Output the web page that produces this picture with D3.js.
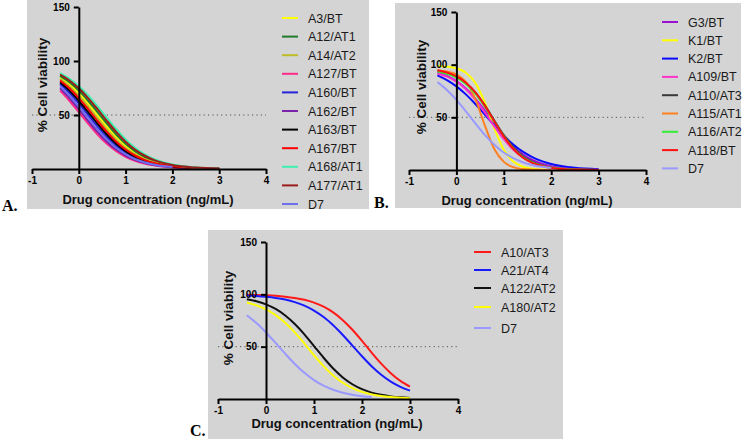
<!DOCTYPE html>
<html><head><meta charset="utf-8">
<script src="https://cdn.jsdelivr.net/npm/d3@7"></script>
<style>
body{margin:0;background:#fff;}
svg{display:block;font-family:"Liberation Sans",Arial,sans-serif;}
</style></head>
<body><svg id="c" width="750" height="439"></svg>
<script>
// ---------- data ----------
const xTicks = [-1, 0, 1, 2, 3, 4];
const yTicks = [50, 100, 150];
const xLabel = "Drug concentration (ng/mL)";
const yLabel = "% Cell viability";

// Panel A
const xA = [-0.4,-0.2,0,0.2,0.4,0.6,0.8,1.0,1.2,1.4,1.6,1.8,2.0,2.5,3.0];
const namesA = ["A3/BT","A12/AT1","A14/AT2","A127/BT","A160/BT","A162/BT","A163/BT","A167/BT","A168/AT1","A177/AT1","D7"];
const colorsA = ["#ffff00","#1f7a2a","#bdbd2a","#ff2a8a","#2424d8","#7a22a8","#000000","#ff0000","#3cf0b0","#9a1c1c","#6f6fee"];
const A3   = [85.0,78.6,70.4,60.7,50.0,39.3,29.6,21.4,15.0,10.3,6.9,4.6,3.0,1.0,0.3];
const A12  = [86.3,80.3,72.6,63.2,52.7,42.0,31.9,23.3,16.5,11.3,7.7,5.1,3.4,1.2,0.4];
const A14  = [83.5,76.7,68.1,58.0,47.3,36.8,27.4,19.7,13.7,9.3,6.3,4.2,2.7,0.9,0.3];
const A127 = [72.6,63.2,52.7,42.0,31.9,23.3,16.5,11.3,7.7,5.1,3.4,2.2,1.4,0.5,0.2];
const A160 = [78.6,70.4,60.7,50.0,39.3,29.6,21.4,15.0,10.3,6.9,4.6,3.0,2.0,0.7,0.2];
const A162 = [74.7,65.7,55.4,44.6,34.3,25.3,18.0,12.5,8.5,5.7,3.7,2.5,1.6,0.5,0.2];
const A163 = [80.3,72.6,63.2,52.7,42.0,31.9,23.3,16.5,11.3,7.7,5.1,3.4,2.2,0.7,0.2];
const A167 = [82.0,74.7,65.7,55.4,44.6,34.3,25.3,18.0,12.5,8.5,5.7,3.7,2.5,0.8,0.3];
const A168 = [88.7,83.5,76.7,68.1,58.0,47.3,36.8,27.4,19.7,13.7,9.3,6.3,4.2,1.4,0.5];
const A177 = [87.5,82.0,74.7,65.7,55.4,44.6,34.3,25.3,18.0,12.5,8.5,5.7,3.7,1.3,0.4];
const D7a  = [76.7,68.1,58.0,47.3,36.8,27.4,19.7,13.7,9.3,6.3,4.2,2.7,1.8,null,null];
const valuesA = [A3,A12,A14,A127,A160,A162,A163,A167,A168,A177,D7a];

// Panel B
const xB = [-0.4,-0.2,0,0.2,0.4,0.6,0.8,1.0,1.2,1.4,1.6,1.8,2.0,2.5,3.0];
const namesB = ["G3/BT","K1/BT","K2/BT","A109/BT","A110/AT3","A115/AT1","A116/AT2","A118/BT","D7"];
const colorsB = ["#9a10d0","#ffff00","#0a0aff","#ff33cc","#3a3a3a","#ff8020","#33ee33","#ff1010","#9999ff"];
const G3   = [92.6,89.3,84.4,77.3,67.8,56.4,44.1,32.3,22.4,14.9,9.5,6.0,3.7,1.1,0.3];
const K1   = [98.7,98.1,96.5,92.4,82.7,64.1,39.6,19.3,8.0,3.1,1.1,0.4,0.2,null,null];
const K2   = [89.8,85.3,79.4,71.8,62.7,52.6,42.3,32.6,24.2,17.4,12.3,8.4,5.7,2.1,0.8];
const A109 = [91.6,88.6,83.9,76.7,66.8,54.6,41.4,29.2,19.3,12.1,7.4,4.4,2.6,0.7,0.2];
const A110 = [94.2,92.1,88.4,82.5,73.5,61.3,47.0,33.1,21.5,13.1,7.7,4.4,2.5,0.6,0.1];
const A115 = [94.5,93.6,90.9,83.6,67.2,42.3,19.9,7.7,2.7,0.9,0.3,0.1,0.0,null,null];
const A116 = [93.4,91.3,87.6,81.6,72.5,60.1,45.9,32.1,20.6,12.4,7.2,4.0,2.2,0.5,0.1];
const A118 = [94.6,92.5,88.9,82.9,73.7,61.1,46.3,31.9,20.2,11.9,6.8,3.8,2.0,0.4,0.1];
const D7b  = [83.4,76.0,66.6,55.7,44.3,33.4,24.0,16.6,11.2,7.4,4.8,3.1,2.0,null,null];
const valuesB = [G3,K1,K2,A109,A110,A115,A116,A118,D7b];

// Panel C
const xC = [-0.4,-0.2,0,0.2,0.4,0.6,0.8,1.0,1.2,1.4,1.6,1.8,2.0,2.2,2.4,2.6,2.8,3.0];
const namesC = ["A10/AT3","A21/AT4","A122/AT2","A180/AT2","D7"];
const colorsC = ["#ff1a1a","#1a1aff","#111111","#ffff00","#9999ff"];
const A10  = [99.6,99.4,99.1,98.6,97.8,96.6,94.8,92.1,88.2,82.7,75.3,66.2,55.6,44.4,33.8,24.7,17.3,11.8];
const A21  = [99.0,98.5,97.7,96.6,95.0,92.6,89.2,84.5,78.3,70.5,61.2,51.0,40.8,31.3,23.1,16.6,11.6,8.0];
const A122 = [95.4,93.4,90.4,86.0,79.8,71.7,61.8,50.6,39.4,29.1,20.6,14.1,9.4,6.1,4.0,2.5,1.6,1.0];
const A180 = [92.2,89.5,85.7,80.2,72.9,63.6,53.0,41.8,31.4,22.5,15.5,10.4,6.8,4.4,2.8,1.8,1.2,0.7];
const D7c  = [80.0,72.6,63.6,53.6,43.3,33.5,25.0,18.1,12.7,8.8,6.0,4.0,2.7,1.8,null,null,null,null];
const valuesC = [A10,A21,A122,A180,D7c];

// ---------- drawing ----------
const svg = d3.select("#c");

function panel(cfg){
  const g = svg.append("g");
  g.append("rect").attr("x",cfg.rect[0]).attr("y",cfg.rect[1])
    .attr("width",cfg.rect[2]).attr("height",cfg.rect[3]).attr("fill","#d4d4d4");
  const x = d3.scaleLinear().domain([-1,4]).range(cfg.xr);
  const y = d3.scaleLinear().domain([0,150]).range(cfg.yr);

  // reference line at 50
  g.append("line").attr("x1",x(-1)).attr("x2",x(4)).attr("y1",y(50)).attr("y2",y(50))
    .attr("stroke","#555").attr("stroke-width",1).attr("stroke-dasharray","1.2,3.2");

  // curves
  const line = d3.line().defined(d => d[1] !== null)
    .x(d => x(d[0])).y(d => y(d[1])).curve(d3.curveMonotoneX);
  cfg.values.forEach((vals,i) => {
    const pts = cfg.xs.map((xv,j) => [xv, vals[j]]);
    g.append("path").attr("d", line(pts)).attr("fill","none")
      .attr("stroke", cfg.colors[i]).attr("stroke-width", 2);
  });

  // axes
  const xa = g.append("g").attr("transform",`translate(0,${y(0)})`)
    .call(d3.axisBottom(x).tickValues(xTicks).tickSize(5).tickSizeOuter(0).tickFormat(d => String(d)));
  const ya = g.append("g").attr("transform",`translate(${x(0)},0)`)
    .call(d3.axisLeft(y).tickValues(yTicks).tickSize(5).tickSizeOuter(0).tickFormat(d => String(d)));
  [xa,ya].forEach(a => {
    a.select(".domain").attr("stroke","#000").attr("stroke-width",2);
    a.selectAll(".tick line").attr("stroke","#000").attr("stroke-width",2);
    a.selectAll(".tick text").attr("fill","#000").attr("font-size",10)
      .attr("font-weight","bold").attr("font-family","Liberation Sans, Arial, sans-serif");
  });
  ya.selectAll(".tick text").attr("dx","-1");

  // axis titles
  g.append("text").attr("x",cfg.xlab[0]).attr("y",cfg.xlab[1]).attr("text-anchor","middle")
    .attr("font-size",13).attr("font-weight","bold").attr("fill","#111").text(xLabel);
  g.append("text").attr("transform",`translate(${cfg.ylab[0]},${cfg.ylab[1]}) rotate(-90)`)
    .attr("text-anchor","middle").attr("font-size",13.5).attr("font-weight","bold")
    .attr("fill","#111").text(yLabel);

  // legend
  cfg.names.forEach((n,i) => {
    const yy = cfg.leg.rows ? cfg.leg.rows[i] : cfg.leg.y0 + i*cfg.leg.dy;
    g.append("line").attr("x1",cfg.leg.x1).attr("x2",cfg.leg.x2).attr("y1",yy).attr("y2",yy)
      .attr("stroke",cfg.colors[i]).attr("stroke-width",2);
    g.append("text").attr("x",cfg.leg.tx).attr("y",yy).attr("dy","0.36em")
      .attr("font-size",12.5).attr("fill","#1a1a1a").text(n);
  });

  // panel tag
  g.append("text").attr("x",cfg.tag[1]).attr("y",cfg.tag[2])
    .attr("font-family","Liberation Serif, Times New Roman, serif").attr("font-weight","bold")
    .attr("font-size",16).attr("fill","#000").text(cfg.tag[0]);
}

panel({rect:[27,0,342,209], xr:[32,266], yr:[169,7], xs:xA, values:valuesA, colors:colorsA, names:namesA,
  leg:{x1:282,x2:298,tx:308,y0:18,dy:18.6}, xlab:[148,204], ylab:[47,85], tag:["A.",2,211]});
panel({rect:[395,3,346,205], xr:[409,646], yr:[170,12], xs:xB, values:valuesB, colors:colorsB, names:namesB,
  leg:{x1:662,x2:678,tx:688,y0:22,dy:18.3}, xlab:[527,205], ylab:[426,87], tag:["B.",374,208]});
panel({rect:[208,230,355,209], xr:[218,458], yr:[399,242], xs:xC, values:valuesC, colors:colorsC, names:namesC,
  leg:{x1:474,x2:491,tx:501,rows:[252,270,288,307,328]}, xlab:[337,428], ylab:[233,318], tag:["C.",190,436]});
</script></body></html>
